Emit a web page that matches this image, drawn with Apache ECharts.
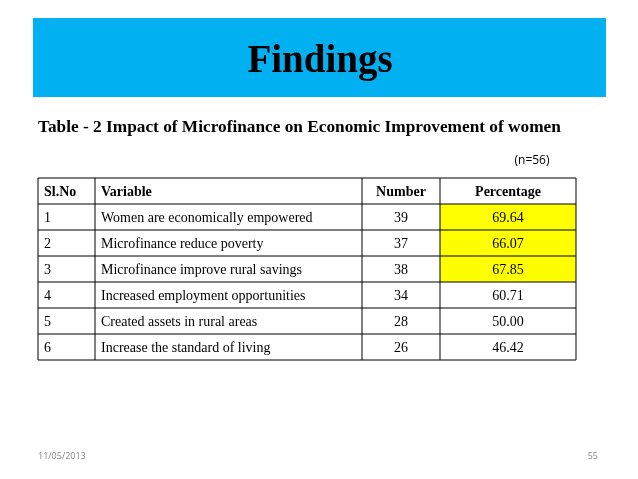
<!DOCTYPE html>
<html><head><meta charset="utf-8">
<script src="https://cdn.jsdelivr.net/npm/echarts@6/dist/echarts.min.js"></script>
<style>html,body{margin:0;padding:0;background:#fff}#c{width:638px;height:479px}</style>
</head><body><div id="c"></div>
<script>
const headers = ["Sl.No","Variable","Number","Percentage"];
const slNo = ["1","2","3","4","5","6"];
const variables = ["Women are economically empowered","Microfinance reduce poverty","Microfinance improve rural savings","Increased employment opportunities","Created assets in rural areas","Increase the standard of living"];
const numbers = [39,37,38,34,28,26];
const percentages = ["69.64","66.07","67.85","60.71","50.00","46.42"];
const highlighted = [true,true,true,false,false,false];

const colX = [38,95,362,440,576];
const top0 = 178, rowH = 26;
const serif = "'Liberation Serif','DejaVu Serif',serif";
const els = [];
els.push({type:'rect',shape:{x:33,y:18,width:573,height:79},style:{fill:'#00B0F0'}});
els.push({type:'text',x:320,y:62,style:{text:'Findings',font:"bold 39px "+serif,fill:'#000',align:'center',verticalAlign:'middle'}});
els.push({type:'text',x:38,y:128,style:{text:'Table - 2 Impact of Microfinance on Economic Improvement of women',font:"bold 17.3px "+serif,fill:'#000',verticalAlign:'middle'}});
els.push({type:'text',x:532,y:161,style:{text:'(n=56)',font:"12px 'Open Sans','Noto Sans',sans-serif",fill:'#000',align:'center',verticalAlign:'middle'}});
const rows = [headers].concat(slNo.map((s,i)=>[s,variables[i],String(numbers[i]),percentages[i]]));
rows.forEach((r,ri)=>{
  const y = top0 + ri*rowH;
  if (ri>0 && highlighted[ri-1]) els.push({type:'rect',shape:{x:colX[3],y:y,width:colX[4]-colX[3],height:rowH},style:{fill:'#FFFF00'}});
  r.forEach((t,ci)=>{
    const center = ci>=2;
    const x = center ? (colX[ci]+colX[ci+1])/2 : colX[ci]+6;
    els.push({type:'text',x:x,y:y+rowH/2+1,style:{text:t,font:(ri===0?"bold ":"")+"14px "+serif,fill:'#000',align:center?'center':'left',verticalAlign:'middle'}});
  });
});
const bottom = top0 + rows.length*rowH;
for (let i=0;i<=rows.length;i++) els.push({type:'line',shape:{x1:colX[0],y1:top0+i*rowH,x2:colX[4],y2:top0+i*rowH},style:{stroke:'#000',lineWidth:1}});
colX.forEach(x=>els.push({type:'line',shape:{x1:x,y1:top0,x2:x,y2:bottom},style:{stroke:'#000',lineWidth:1}}));
els.push({type:'text',x:38,y:456,style:{text:'11/05/2013',font:"9px 'Open Sans','Noto Sans',sans-serif",fill:'#888',verticalAlign:'middle'}});
els.push({type:'text',x:598,y:456,style:{text:'55',font:"9px 'Open Sans','Noto Sans',sans-serif",fill:'#888',align:'right',verticalAlign:'middle'}});
const chart = echarts.init(document.getElementById('c'));
chart.setOption({animation:false,graphic:{elements:els}});
</script></body></html>
